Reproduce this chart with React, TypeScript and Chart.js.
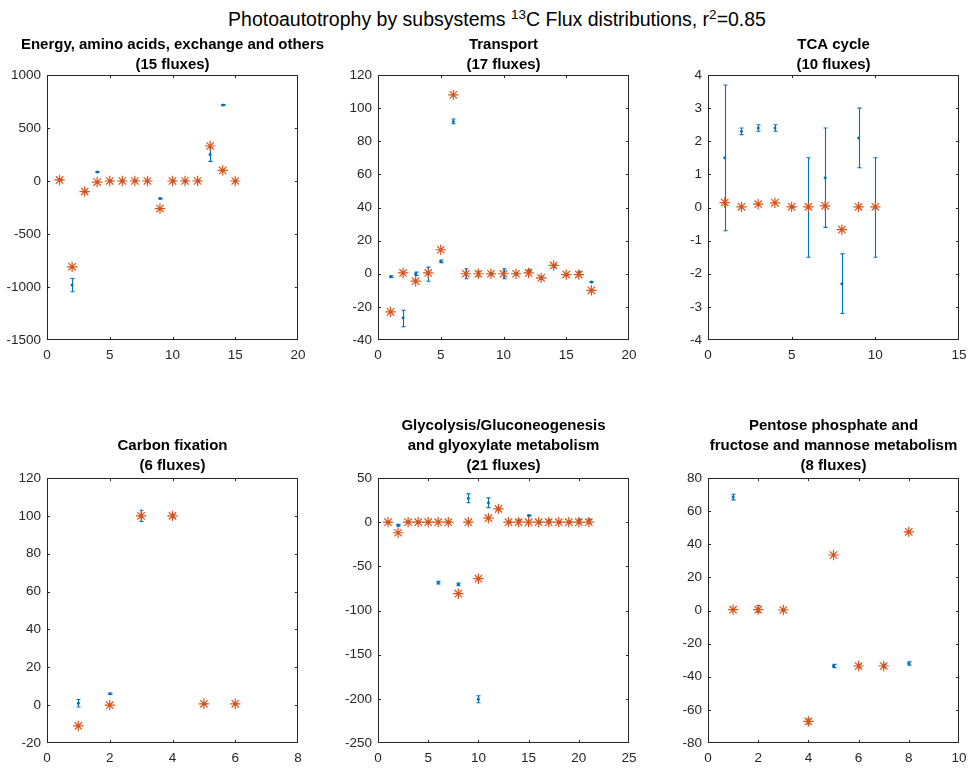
import React, { useEffect, useRef } from "react";
import { Chart, registerables } from "chart.js";

Chart.register(...registerables);

const BLUE = "#0072BD";
const ORANGE = "#D95319";
const AXIS = "#262626";
const FONT = "'Liberation Sans', Arial, Helvetica, sans-serif";

// ---------- Energy, amino acids, exchange and others ----------
const energyTitle = ["Energy, amino acids, exchange and others", "(15 fluxes)"];
const energySim = [10, -810, -100, -10, 0, 0, 0, 0, -260, 0, 0, 0, 330, 100, 0];
const energyMeas = [10, -980, -100, 85, 0, 0, 0, 0, -165, 0, 0, 0, 250, 717, 0];
const energyLo = [5, -1045, -105, 80, -3, -3, -3, -3, -170, -3, -3, -3, 185, 713, -3];
const energyHi = [15, -920, -95, 90, 3, 3, 3, 3, -160, 3, 3, 3, 315, 721, 3];
const energyXTicks = [0, 5, 10, 15, 20];
const energyYTicks = [-1500, -1000, -500, 0, 500, 1000];

// ---------- Transport ----------
const transportTitle = ["Transport", "(17 fluxes)"];
const transportSim = [-23, 0.5, -4.5, 0.5, 14.5, 108, 0, 0, 0, 0, 0, 0.5, -2.5, 5, -0.5, -0.5, -10];
const transportMeas = [-1.8, -26.5, 0, 0, 7.5, 92, 0, 0, 0, 0, 0, 2, -2.5, 4.6, -0.5, 0.5, -5];
const transportLo = [-2.3, -32, -1, -4.5, 6.7, 90.6, -3, -1.5, -0.5, -3, -0.5, 1.3, -3.5, 3.6, -1, -0.5, -5.3];
const transportHi = [-1.3, -22, 1, 4, 8.3, 93.4, 3, 1.5, 0.5, 3, 0.5, 2.7, -1.5, 5.6, 0, 1.5, -4.7];
const transportXTicks = [0, 5, 10, 15, 20];
const transportYTicks = [-40, -20, 0, 20, 40, 60, 80, 100, 120];

// ---------- TCA cycle ----------
const tcaTitle = ["TCA cycle", "(10 fluxes)"];
const tcaSim = [0.15, 0.02, 0.1, 0.14, 0.02, 0.02, 0.05, -0.67, 0.02, 0.02];
const tcaMeas = [1.5, 2.3, 2.4, 2.4, 0.02, 0, 0.9, -2.3, 2.1, 0];
const tcaLo = [-0.7, 2.2, 2.3, 2.3, 0, -1.5, -0.6, -3.2, 1.2, -1.5];
const tcaHi = [3.7, 2.4, 2.5, 2.5, 0.04, 1.5, 2.4, -1.4, 3.0, 1.5];
const tcaXTicks = [0, 5, 10, 15];
const tcaYTicks = [-4, -3, -2, -1, 0, 1, 2, 3, 4];

// ---------- Carbon fixation ----------
const carbonTitle = ["Carbon fixation", "(6 fluxes)"];
const carbonSim = [-11, 0, 100, 100, 0.7, 0.7];
const carbonMeas = [1, 6, 100, 100, 0.7, 0.7];
const carbonLo = [-1, 5.6, 97, 99, 0.5, 0.5];
const carbonHi = [3, 6.4, 103, 101, 0.9, 0.9];
const carbonXTicks = [0, 2, 4, 6, 8];
const carbonYTicks = [-20, 0, 20, 40, 60, 80, 100, 120];

// ---------- Glycolysis/Gluconeogenesis and glyoxylate metabolism ----------
const glycoTitle = ["Glycolysis/Gluconeogenesis", "and glyoxylate metabolism", "(21 fluxes)"];
const glycoSim = [0, -12, 0, 0, 0, 0, 0, -81, 0, -64, 4.5, 15, 0, 0, 0, 0, 0, 0, 0, 0, 0];
const glycoMeas = [0, -3.5, 0, 0, 0, -68.5, 0, -70.5, 27, -200.5, 22, 15, 0, 2, 7.5, 0, 1.3, 0, 0, 1, 1];
const glycoLo = [-0.5, -4.5, -0.5, -0.5, -0.5, -70, -0.5, -72, 22, -204.5, 16.5, 14, -0.5, 1.5, 7, -0.5, 0, -0.5, -0.5, -1.5, -1.5];
const glycoHi = [0.5, -2.5, 0.5, 0.5, 0.5, -67, 0.5, -69, 32, -196.5, 27.5, 16, 0.5, 2.5, 8, 0.5, 2.6, 0.5, 0.5, 3.5, 3.5];
const glycoXTicks = [0, 5, 10, 15, 20, 25];
const glycoYTicks = [-250, -200, -150, -100, -50, 0, 50];

// ---------- Pentose phosphate and fructose and mannose metabolism ----------
const pentoseTitle = ["Pentose phosphate and", "fructose and mannose metabolism", "(8 fluxes)"];
const pentoseSim = [0.5, 0.5, 0.3, -67, 33.5, -33.5, -33.5, 47.5];
const pentoseMeas = [68.5, 1, 0.3, -67, -33.5, -33.5, -33.5, -32];
const pentoseLo = [66.8, -1, 0, -68.5, -34.5, -34.5, -34.5, -33];
const pentoseHi = [70.2, 3, 0.6, -65.5, -32.5, -32.5, -32.5, -31];
const pentoseXTicks = [0, 2, 4, 6, 8, 10];
const pentoseYTicks = [-80, -60, -40, -20, 0, 20, 40, 60, 80];

type PanelData = {
  title: string[];
  sim: number[];
  meas: number[];
  lo: number[];
  hi: number[];
  xTicks: number[];
  yTicks: number[];
};

const panels: PanelData[] = [
  { title: energyTitle, sim: energySim, meas: energyMeas, lo: energyLo, hi: energyHi, xTicks: energyXTicks, yTicks: energyYTicks },
  { title: transportTitle, sim: transportSim, meas: transportMeas, lo: transportLo, hi: transportHi, xTicks: transportXTicks, yTicks: transportYTicks },
  { title: tcaTitle, sim: tcaSim, meas: tcaMeas, lo: tcaLo, hi: tcaHi, xTicks: tcaXTicks, yTicks: tcaYTicks },
  { title: carbonTitle, sim: carbonSim, meas: carbonMeas, lo: carbonLo, hi: carbonHi, xTicks: carbonXTicks, yTicks: carbonYTicks },
  { title: glycoTitle, sim: glycoSim, meas: glycoMeas, lo: glycoLo, hi: glycoHi, xTicks: glycoXTicks, yTicks: glycoYTicks },
  { title: pentoseTitle, sim: pentoseSim, meas: pentoseMeas, lo: pentoseLo, hi: pentoseHi, xTicks: pentoseXTicks, yTicks: pentoseYTicks },
];

// ---------- layout (pixels) ----------
const COL_LEFT = [47, 378, 708];
const ROW_TOP = [75, 478];
const ROW_CANVAS_TOP = [28, 400];
const PLOT_W = 251;
const PLOT_H = 265;
const SIDE = 46;
const XAXIS_H = 25;
const BOTTOM_PAD = 2;
const TITLE_LINE = 20;
const TITLE_PAD_BOTTOM = [0, 2.5];

function Panel({ data, index }: { data: PanelData; index: number }) {
  const ref = useRef<HTMLCanvasElement | null>(null);
  const col = index % 3;
  const row = Math.floor(index / 3);
  const canvasLeft = COL_LEFT[col] - SIDE;
  const canvasTop = ROW_CANVAS_TOP[row];
  const width = PLOT_W + 2 * SIDE;
  const height = ROW_TOP[row] + PLOT_H - canvasTop + XAXIS_H + BOTTOM_PAD;
  const padBottom = TITLE_PAD_BOTTOM[row];
  const padTop = ROW_TOP[row] - canvasTop - data.title.length * TITLE_LINE - padBottom;

  useEffect(() => {
    if (!ref.current) return;
    const xs = data.sim.map((_, i) => i + 1);
    const framePlugin = {
      id: "matlabFrame" + index,
      beforeDatasetsDraw(chart: any) {
        const { ctx, chartArea: a, scales } = chart;
        const sx = scales.x;
        const sy = scales.y;
        ctx.save();
        ctx.strokeStyle = AXIS;
        ctx.lineWidth = 1;
        const l = Math.round(a.left) + 0.5;
        const r = Math.round(a.right) - 0.5;
        const t = Math.round(a.top) + 0.5;
        const b = Math.round(a.bottom) - 0.5;
        ctx.strokeRect(l, t, r - l, b - t);
        const tl = 2.6;
        ctx.beginPath();
        sx.ticks.forEach((tk: any) => {
          const p = Math.round(sx.getPixelForValue(tk.value)) + 0.5;
          if (p <= l + 1 || p >= r - 1) return;
          ctx.moveTo(p, b);
          ctx.lineTo(p, b - tl);
          ctx.moveTo(p, t);
          ctx.lineTo(p, t + tl);
        });
        sy.ticks.forEach((tk: any) => {
          const p = Math.round(sy.getPixelForValue(tk.value)) + 0.5;
          if (p <= t + 1 || p >= b - 1) return;
          ctx.moveTo(l, p);
          ctx.lineTo(l + tl, p);
          ctx.moveTo(r, p);
          ctx.lineTo(r - tl, p);
        });
        ctx.stroke();
        // error bars of measured fluxes
        ctx.strokeStyle = BLUE;
        ctx.lineWidth = 1.1;
        ctx.beginPath();
        const cap = 2;
        xs.forEach((xv, i) => {
          const px = Math.round(sx.getPixelForValue(xv)) + 0.5;
          const y1 = sy.getPixelForValue(data.lo[i]);
          const y2 = sy.getPixelForValue(data.hi[i]);
          ctx.moveTo(px, y1);
          ctx.lineTo(px, y2);
          ctx.moveTo(px - cap, y1);
          ctx.lineTo(px + cap, y1);
          ctx.moveTo(px - cap, y2);
          ctx.lineTo(px + cap, y2);
        });
        ctx.stroke();
        ctx.restore();
      },
    };

    const tickFont = { family: FONT, size: 13.5 };
    const chart = new Chart(ref.current, {
      type: "scatter",
      data: {
        datasets: [
          {
            label: "Simulated",
            data: xs.map((x, i) => ({ x, y: data.sim[i] })),
            pointStyle: "star",
            pointRadius: 5.2,
            pointBorderColor: ORANGE,
            pointBackgroundColor: ORANGE,
            pointBorderWidth: 1.2,
            borderColor: ORANGE,
            backgroundColor: ORANGE,
            showLine: false,
          },
          {
            label: "Measured",
            data: xs.map((x, i) => ({ x, y: data.meas[i] })),
            pointStyle: "circle",
            pointRadius: 1.5,
            pointBorderWidth: 0,
            pointBackgroundColor: BLUE,
            borderColor: BLUE,
            backgroundColor: BLUE,
            showLine: false,
          },
        ],
      },
      options: {
        responsive: false,
        animation: false,
        events: [],
        layout: { padding: { left: 0, right: 0, top: 0, bottom: BOTTOM_PAD } },
        plugins: {
          legend: { display: false },
          tooltip: { enabled: false },
          title: {
            display: true,
            text: data.title,
            color: "#000000",
            font: { family: FONT, size: 15, weight: "bold", lineHeight: TITLE_LINE / 15 },
            padding: { top: padTop, bottom: padBottom },
            fullSize: true,
          },
        },
        scales: {
          x: {
            type: "linear",
            min: data.xTicks[0],
            max: data.xTicks[data.xTicks.length - 1],
            afterBuildTicks: (s: any) => {
              s.ticks = data.xTicks.map((v) => ({ value: v }));
            },
            afterFit: (s: any) => {
              s.height = XAXIS_H;
            },
            grid: { display: false, drawTicks: false },
            border: { display: false },
            ticks: {
              color: AXIS,
              font: tickFont,
              padding: 7,
              maxRotation: 0,
              autoSkip: false,
              callback: (v: any) => String(v),
            },
          },
          y: {
            type: "linear",
            position: "left",
            min: data.yTicks[0],
            max: data.yTicks[data.yTicks.length - 1],
            afterBuildTicks: (s: any) => {
              s.ticks = data.yTicks.map((v) => ({ value: v }));
            },
            afterFit: (s: any) => {
              s.width = SIDE;
            },
            grid: { display: false, drawTicks: false },
            border: { display: false },
            ticks: {
              color: AXIS,
              font: tickFont,
              padding: 6,
              autoSkip: false,
              callback: (v: any) => String(v),
            },
          },
          yRight: {
            type: "linear",
            position: "right",
            display: true,
            min: data.yTicks[0],
            max: data.yTicks[data.yTicks.length - 1],
            afterFit: (s: any) => {
              s.width = SIDE;
            },
            grid: { display: false, drawTicks: false },
            border: { display: false },
            ticks: { display: false },
          },
        },
      },
      plugins: [framePlugin],
    } as any);
    return () => chart.destroy();
  }, [data, index, padTop, padBottom]);

  return (
    <canvas
      ref={ref}
      width={width}
      height={height}
      style={{ position: "absolute", left: canvasLeft, top: canvasTop, width, height }}
    />
  );
}

export default function App() {
  const sup: React.CSSProperties = { fontSize: 13.5, position: "relative", top: -7 };
  return (
    <div
      style={{
        position: "fixed",
        left: 0,
        top: 0,
        width: 969,
        height: 770,
        overflow: "hidden",
        background: "#ffffff",
      }}
    >
      <div
        style={{
          position: "absolute",
          left: 0,
          top: 10,
          width: 994,
          textAlign: "center",
          fontFamily: FONT,
          fontSize: 19.5,
          lineHeight: "19px",
          color: "#000000",
          whiteSpace: "nowrap",
        }}
      >
        Photoautotrophy by subsystems <span style={sup}>13</span>C Flux distributions, r<span style={sup}>2</span>=0.85
      </div>
      {panels.map((p, i) => (
        <Panel key={i} data={p} index={i} />
      ))}
    </div>
  );
}
